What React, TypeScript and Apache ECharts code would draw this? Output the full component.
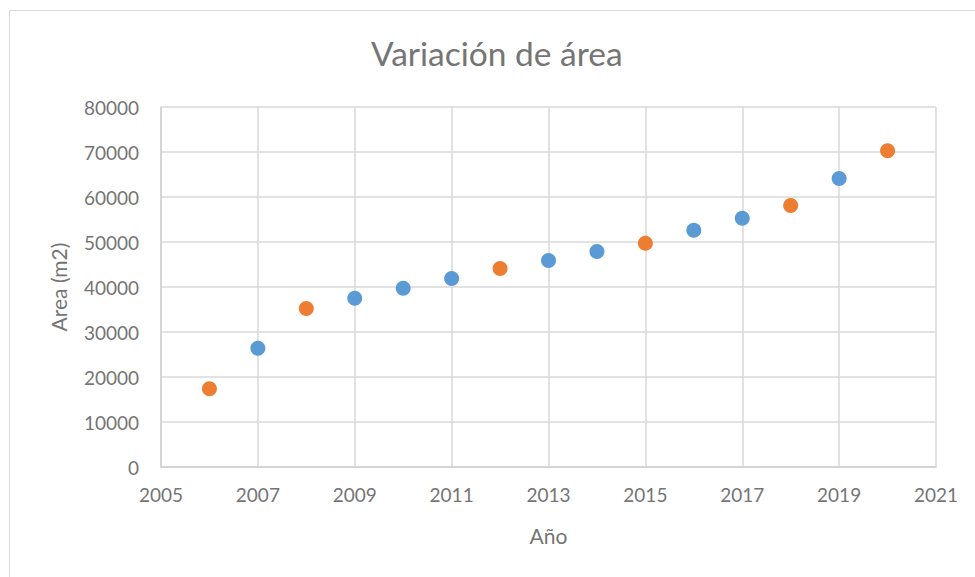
import React, { useEffect, useRef } from "react";
import * as echarts from "echarts";

const blueYears = [2007, 2009, 2010, 2011, 2013, 2014, 2016, 2017, 2019];
const blueValues = [26400, 37500, 39700, 41900, 45900, 47900, 52600, 55300, 64100];
const orangeYears = [2006, 2008, 2012, 2015, 2018, 2020];
const orangeValues = [17400, 35200, 44100, 49700, 58100, 70300];

const title = "Variación de área";
const xName = "Año";
const yName = "Area (m2)";

const FONT = "Lato, 'Noto Sans', sans-serif";
const TEXT = "#757575";

export default function App() {
  const ref = useRef<HTMLDivElement>(null);
  useEffect(() => {
    document.body.style.margin = "0";
    if (!ref.current) return;
    const chart = echarts.init(ref.current, undefined, { renderer: "svg" });
    chart.setOption({
      animation: false,
      backgroundColor: "#ffffff",
      textStyle: { fontFamily: FONT },
      title: {
        text: title,
        left: 366,
        top: 31,
        textStyle: { fontFamily: FONT, fontSize: 33.5, fontWeight: "normal", color: TEXT },
      },
      graphic: [
        {
          type: "rect",
          shape: { x: 9.5, y: 10.5, width: 1000, height: 1000 },
          style: { fill: "none", stroke: "#D9D9D9", lineWidth: 1 },
          silent: true,
        },
      ],
      grid: { left: 161, right: 39, top: 107, bottom: 110 },
      xAxis: {
        type: "value",
        min: 2005,
        max: 2021,
        interval: 2,
        name: xName,
        nameLocation: "middle",
        nameGap: 58,
        nameTextStyle: { fontFamily: FONT, fontSize: 21, color: TEXT },
        axisLine: { show: true, lineStyle: { color: "#D0D0D0", width: 1.5 } },
        axisTick: { show: false },
        axisLabel: {
          fontFamily: FONT,
          fontSize: 19,
          color: TEXT,
          margin: 18,
          formatter: (v: number) => String(v),
        },
        splitLine: { show: true, lineStyle: { color: "#D9D9D9", width: 1.5 } },
      },
      yAxis: {
        type: "value",
        min: 0,
        max: 80000,
        interval: 10000,
        name: yName,
        nameLocation: "middle",
        nameGap: 92,
        nameTextStyle: { fontFamily: FONT, fontSize: 21, color: TEXT },
        axisLine: { show: true, lineStyle: { color: "#D0D0D0", width: 1.5 } },
        axisTick: { show: false },
        axisLabel: {
          fontFamily: FONT,
          fontSize: 19,
          color: TEXT,
          margin: 22,
          formatter: (v: number) => String(v),
        },
        splitLine: { show: true, lineStyle: { color: "#D9D9D9", width: 1.5 } },
      },
      series: [
        {
          type: "scatter",
          symbol: "circle",
          symbolSize: 15,
          itemStyle: { color: "#5B9BD5", opacity: 1 },
          data: blueYears.map((y, i) => [y, blueValues[i]]),
        },
        {
          type: "scatter",
          symbol: "circle",
          symbolSize: 15,
          itemStyle: { color: "#ED7D31", opacity: 1 },
          data: orangeYears.map((y, i) => [y, orangeValues[i]]),
        },
      ],
    });
    return () => chart.dispose();
  }, []);
  return <div ref={ref} style={{ width: 975, height: 577 }} />;
}
